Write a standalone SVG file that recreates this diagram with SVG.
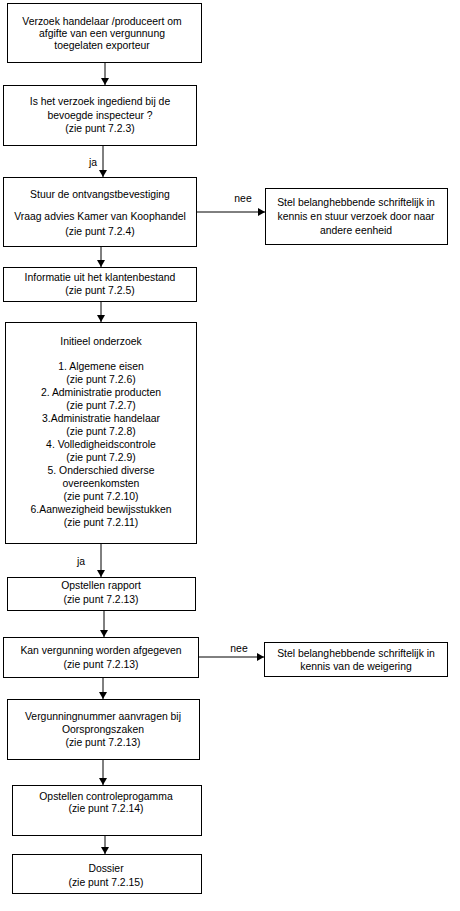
<svg xmlns="http://www.w3.org/2000/svg" width="460" height="911" viewBox="0 0 460 911">
<style>
rect{fill:#fff;stroke:#000;stroke-width:1}
text{font-family:"Liberation Sans",Arial,sans-serif;font-size:10.4px;fill:#000;text-anchor:middle}
.c line{stroke:#000;stroke-width:1}
</style>
<defs>
<marker id="a" markerUnits="userSpaceOnUse" markerWidth="8" markerHeight="8" refX="7" refY="4" orient="auto">
<path d="M0,0 L7,4 L0,8 z" fill="#000"/>
</marker>
</defs>
<rect x="0" y="0" width="460" height="911" style="stroke:none"/>
<g class="c">
<line x1="105" y1="62" x2="105" y2="85" marker-end="url(#a)"/>
<line x1="103" y1="145" x2="103" y2="177" marker-end="url(#a)"/>
<line x1="196" y1="212" x2="265" y2="212" marker-end="url(#a)"/>
<line x1="101" y1="246" x2="101" y2="267" marker-end="url(#a)"/>
<line x1="101" y1="301" x2="101" y2="322" marker-end="url(#a)"/>
<line x1="101" y1="543" x2="101" y2="577" marker-end="url(#a)"/>
<line x1="104" y1="610" x2="104" y2="637" marker-end="url(#a)"/>
<line x1="198" y1="657" x2="264" y2="657" marker-end="url(#a)"/>
<line x1="103" y1="677" x2="103" y2="699" marker-end="url(#a)"/>
<line x1="103" y1="759" x2="103" y2="785" marker-end="url(#a)"/>
<line x1="105" y1="835" x2="105" y2="854" marker-end="url(#a)"/>
<text x="93" y="166">ja</text>
<text x="243" y="202">nee</text>
<text x="81" y="565">ja</text>
<text x="239" y="652">nee</text>
</g>
<g id="n1"><rect x="7.5" y="3.5" width="194" height="59"/>
<text x="102" y="25">Verzoek handelaar /produceert om</text>
<text x="102" y="37">afgifte van een vergunnung</text>
<text x="102" y="49">toegelaten exporteur</text></g>
<g id="n2"><rect x="3.5" y="85.5" width="193" height="60"/>
<text x="100" y="105">Is het verzoek ingediend bij de</text>
<text x="100" y="119">bevoegde inspecteur ?</text>
<text x="100" y="132">(zie punt 7.2.3)</text></g>
<g id="n3"><rect x="3.5" y="177.5" width="193" height="69"/>
<text x="100" y="198">Stuur de ontvangstbevestiging</text>
<text x="100" y="220">Vraag advies Kamer van Koophandel</text>
<text x="100" y="235">(zie punt 7.2.4)</text></g>
<g id="n3b"><rect x="265.5" y="188.5" width="182" height="56"/>
<text x="356" y="206">Stel belanghebbende schriftelijk in</text>
<text x="356" y="220">kennis en stuur verzoek door naar</text>
<text x="356" y="234">andere eenheid</text></g>
<g id="n4"><rect x="3.5" y="267.5" width="193" height="34"/>
<text x="100" y="281">Informatie uit het klantenbestand</text>
<text x="100" y="294">(zie punt 7.2.5)</text></g>
<g id="n5"><rect x="5.5" y="322.5" width="191" height="221"/>
<text x="101" y="345">Initieel onderzoek</text>
<text x="101" y="370">1. Algemene eisen</text>
<text x="101" y="383">(zie punt 7.2.6)</text>
<text x="101" y="396">2. Administratie producten</text>
<text x="101" y="409">(zie punt 7.2.7)</text>
<text x="101" y="422">3.Administratie handelaar</text>
<text x="101" y="435">(zie punt 7.2.8)</text>
<text x="101" y="448">4. Volledigheidscontrole</text>
<text x="101" y="461">(zie punt 7.2.9)</text>
<text x="101" y="474">5. Onderschied diverse</text>
<text x="101" y="487">overeenkomsten</text>
<text x="101" y="500">(zie punt 7.2.10)</text>
<text x="101" y="513">6.Aanwezigheid bewijsstukken</text>
<text x="101" y="526">(zie punt 7.2.11)</text></g>
<g id="n6"><rect x="7.5" y="577.5" width="188" height="33"/>
<text x="101" y="589">Opstellen rapport</text>
<text x="101" y="603">(zie punt 7.2.13)</text></g>
<g id="n7"><rect x="3.5" y="637.5" width="195" height="40"/>
<text x="101" y="654">Kan vergunning worden afgegeven</text>
<text x="101" y="668">(zie punt 7.2.13)</text></g>
<g id="n7b"><rect x="264.5" y="642.5" width="183" height="34"/>
<text x="356" y="657">Stel belanghebbende  schriftelijk in</text>
<text x="356" y="670">kennis van de weigering</text></g>
<g id="n8"><rect x="7.5" y="699.5" width="192" height="60"/>
<text x="103" y="720">Vergunningnummer aanvragen bij</text>
<text x="103" y="733">Oorsprongszaken</text>
<text x="103" y="746">(zie punt 7.2.13)</text></g>
<g id="n9"><rect x="12.5" y="785.5" width="189" height="50"/>
<text x="106" y="800">Opstellen controleprogamma</text>
<text x="106" y="812">(zie punt 7.2.14)</text></g>
<g id="n10"><rect x="12.5" y="854.5" width="189" height="39"/>
<text x="106" y="872">Dossier</text>
<text x="106" y="886">(zie punt 7.2.15)</text></g>
</svg>
